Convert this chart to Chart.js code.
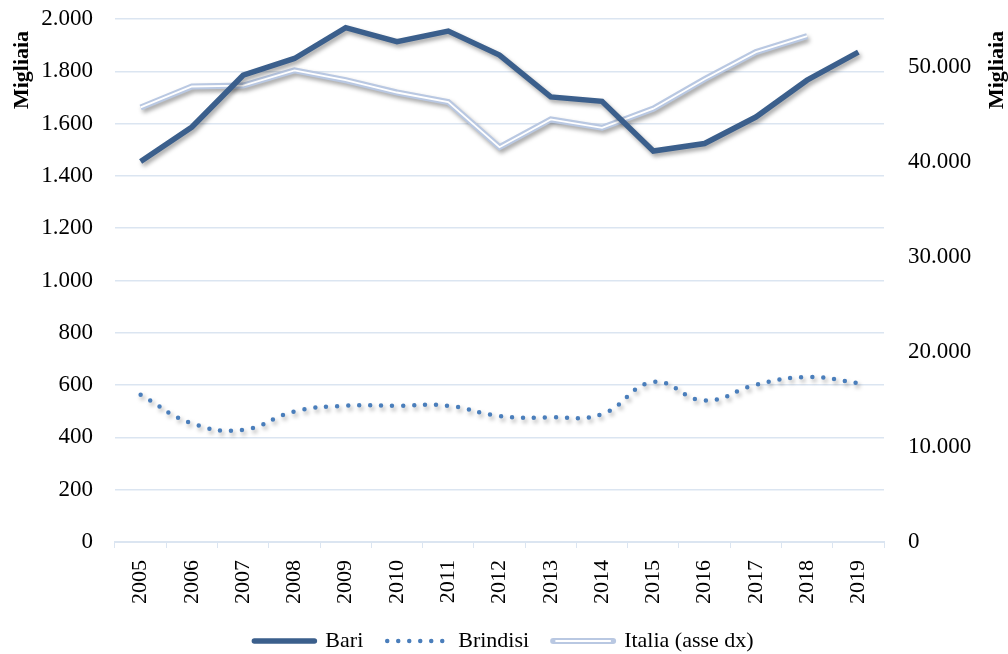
<!DOCTYPE html>
<html>
<head>
<meta charset="utf-8">
<script src="https://cdn.jsdelivr.net/npm/chart.js@4/dist/chart.umd.min.js"></script>
<style>
  html, body { margin: 0; padding: 0; background: #fff; }
  #wrap { width: 1008px; height: 654px; }
</style>
</head>
<body>
<div id="wrap"><canvas id="chart" width="1008" height="654"></canvas></div>
<script>
const years = ['2005', '2006', '2007', '2008', '2009', '2010', '2011', '2012', '2013', '2014', '2015', '2016', '2017', '2018', '2019'];
const bari = [1455, 1587, 1785, 1849, 1967, 1913, 1954, 1862, 1702, 1685, 1495, 1524, 1625, 1766, 1873];
const brindisi = [563, 454, 429, 499, 521, 521, 521, 482, 477, 489, 612, 541, 601, 631, 608];
const italia = [45700, 47900, 48000, 49600, 48560, 47270, 46270, 41520, 44440, 43560, 45570, 48670, 51520, 53200, null];
const leftTicks = [0, 200, 400, 600, 800, 1000, 1200, 1400, 1600, 1800, 2000];
const rightTicks = [0, 10000, 20000, 30000, 40000, 50000];

const FONT = "'Liberation Serif', 'DejaVu Serif', serif";
const GRID = '#dbe5f1';

// thousands with a dot, Italian style
function fmt(v) {
  return String(v).replace(/\B(?=(\d{3})+(?!\d))/g, '.');
}

// Excel-like drop shadow under each series
const shadowPlugin = {
  id: 'shadow',
  beforeDatasetDraw(chart, args) {
    const ds = chart.data.datasets[args.index];
    const ctx = chart.ctx;
    ctx.save();
    if (!ds.noShadow) {
      ctx.shadowColor = 'rgba(0,0,0,0.35)';
      ctx.shadowBlur = 4;
      ctx.shadowOffsetX = 2;
      ctx.shadowOffsetY = 3;
    }
  },
  afterDatasetDraw(chart) {
    chart.ctx.restore();
  }
};

// rotated "Migliaia" titles on both sides (both read upwards)
const titlesPlugin = {
  id: 'titles',
  afterDraw(chart) {
    const ctx = chart.ctx;
    ctx.save();
    ctx.font = 'bold 22px ' + FONT;
    ctx.fillStyle = '#000';
    ctx.textAlign = 'center';
    ctx.textBaseline = 'middle';
    [[22, 70], [997, 70]].forEach(([x, y]) => {
      ctx.save();
      ctx.translate(x, y);
      ctx.rotate(-Math.PI / 2);
      ctx.fillText('Migliaia', 0, 0);
      ctx.restore();
    });
    // white core of the Italia legend sample
    const boxes = chart.legend.legendHitBoxes;
    if (boxes && boxes[2]) {
      const b = boxes[2];
      ctx.strokeStyle = '#ffffff';
      ctx.lineWidth = 2;
      ctx.lineCap = 'round';
      ctx.beginPath();
      ctx.moveTo(b.left + 3, b.top + b.height / 2);
      ctx.lineTo(b.left + 57, b.top + b.height / 2);
      ctx.stroke();
    }
    ctx.restore();
  }
};

const noPad = scale => { scale.paddingTop = 0; scale.paddingBottom = 0; };

const ctx = document.getElementById('chart').getContext('2d');
new Chart(ctx, {
  type: 'line',
  data: {
    labels: years,
    datasets: [
      {
        label: 'Bari',
        data: bari,
        yAxisID: 'y',
        borderColor: '#3b5f8c',
        backgroundColor: '#3b5f8c',
        borderWidth: 5.5,
        pointRadius: 0,
        tension: 0,
        order: 0
      },
      {
        label: 'Italia core',
        data: italia,
        yAxisID: 'y1',
        borderColor: '#ffffff',
        borderWidth: 1.8,
        pointRadius: 0,
        tension: 0,
        noShadow: true,
        order: 1
      },
      {
        label: 'Brindisi',
        data: brindisi,
        yAxisID: 'y',
        borderColor: '#4a7ebb',
        backgroundColor: '#4a7ebb',
        borderWidth: 4.5,
        borderDash: [0, 11],
        borderCapStyle: 'round',
        pointRadius: 0,
        tension: 0.45,
        order: 2
      },
      {
        label: 'Italia (asse dx)',
        data: italia,
        yAxisID: 'y1',
        borderColor: '#b9c8e2',
        backgroundColor: '#b9c8e2',
        borderWidth: 6,
        pointRadius: 0,
        tension: 0,
        order: 3
      }
    ]
  },
  options: {
    responsive: false,
    animation: false,
    layout: { padding: { top: 19, bottom: -8, left: 0, right: 0 } },
    scales: {
      x: {
        offset: true,
        afterFit(scale) { scale.height = 64; },
        grid: { display: true, drawOnChartArea: false, drawTicks: true, tickLength: 6, color: GRID, offset: true },
        border: { display: true, color: GRID, width: 2 },
        ticks: {
          color: '#000',
          font: { family: FONT, size: 22 },
          minRotation: 90,
          maxRotation: 90,
          padding: 12
        }
      },
      y: {
        position: 'left',
        min: 0,
        max: 2000,
        afterBuildTicks(scale) { scale.ticks = leftTicks.map(v => ({ value: v })); },
        afterFit(scale) { scale.width = 115; noPad(scale); },
        grid: { color: GRID, lineWidth: 1.5, drawTicks: false },
        border: { display: false },
        ticks: {
          color: '#000',
          font: { family: FONT, size: 23 },
          padding: 22,
          callback: v => fmt(v)
        }
      },
      y1: {
        position: 'right',
        min: 0,
        max: 55000,
        afterBuildTicks(scale) { scale.ticks = rightTicks.map(v => ({ value: v })); },
        afterFit(scale) { scale.width = 124; noPad(scale); },
        grid: { display: false, drawTicks: false },
        border: { display: false },
        ticks: {
          color: '#000',
          font: { family: FONT, size: 23 },
          padding: 24,
          callback: v => fmt(v)
        }
      }
    },
    plugins: {
      legend: {
        position: 'bottom',
        labels: {
          font: { family: FONT, size: 22 },
          color: '#000',
          usePointStyle: true,
          pointStyleWidth: 60,
          boxHeight: 8,
          padding: 24,
          generateLabels(chart) {
            return chart.data.datasets.map((ds, i) => ({
              text: ds.label,
              datasetIndex: i,
              pointStyle: 'line',
              strokeStyle: ds.borderColor,
              fillStyle: ds.borderColor,
              lineWidth: ds.borderWidth,
              lineDash: ds.borderDash || [],
              lineCap: 'round',
              fontColor: '#000',
              hidden: false
            })).filter(it => it.text !== 'Italia core');
          }
        }
      },
      tooltip: { enabled: false }
    }
  },
  plugins: [shadowPlugin, titlesPlugin]
});
</script>
</body>
</html>
